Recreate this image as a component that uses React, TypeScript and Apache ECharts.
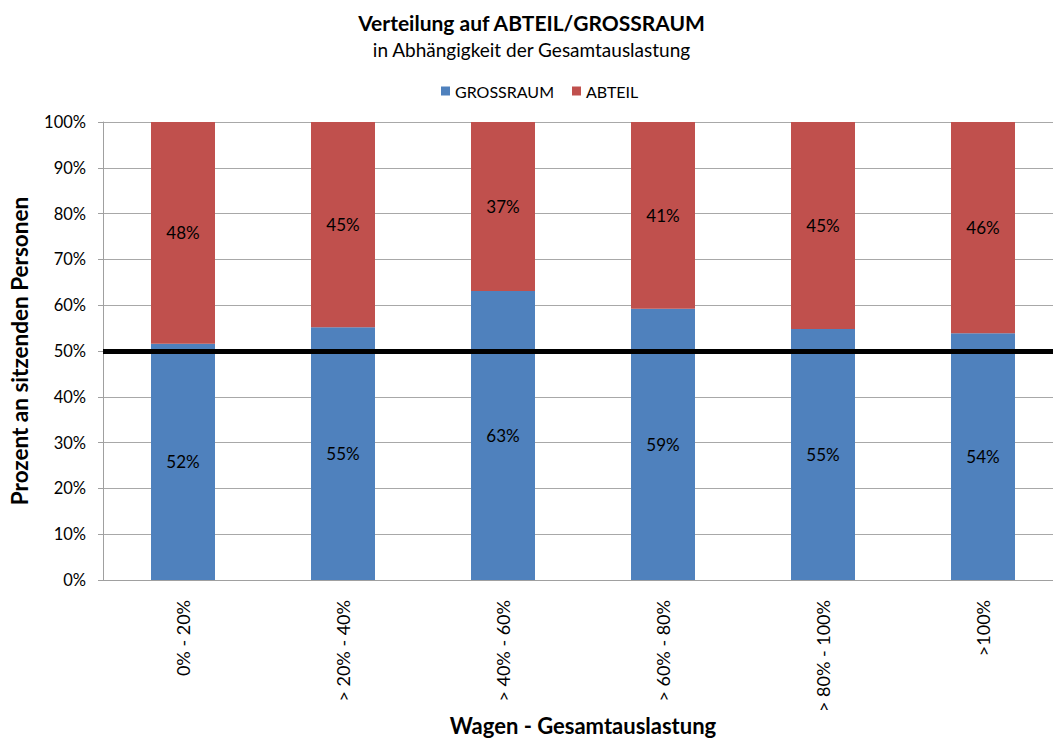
import React, { useEffect, useRef } from "react";
import * as echarts from "echarts";

const categories = ["0% - 20%", "> 20% - 40%", "> 40% - 60%", "> 60% - 80%", "> 80% - 100%", ">100%"];
const grossraum = [51.6, 55.2, 63.1, 59.2, 54.8, 53.9];
const abteil = [48.4, 44.8, 36.9, 40.8, 45.2, 46.1];
const yTicks = [0, 10, 20, 30, 40, 50, 60, 70, 80, 90, 100];
const referenceLine = 50;

const FONT = "Lato";

export default function App() {
  const ref = useRef<HTMLDivElement>(null);
  useEffect(() => {
    if (!ref.current) return;
    const chart = echarts.init(ref.current, null, { renderer: "svg" });
    const label = {
      show: true,
      position: "inside",
      color: "#000",
      fontFamily: FONT,
      fontSize: 17,
      formatter: (p: any) => Math.round(p.value) + "%",
    };
    chart.setOption({
      animation: false,
      backgroundColor: "#fff",
      title: {
        text: "Verteilung auf ABTEIL/GROSSRAUM",
        subtext: "in Abhängigkeit der Gesamtauslastung",
        left: "center",
        top: 7,
        itemGap: 7,
        textStyle: { fontFamily: FONT, fontSize: 21, fontWeight: "bold", color: "#000" },
        subtextStyle: { fontFamily: FONT, fontSize: 19, color: "#000" },
      },
      legend: {
        top: 78,
        left: 436,
        icon: "rect",
        itemWidth: 9,
        itemHeight: 9,
        itemGap: 18,
        textStyle: { fontFamily: FONT, fontSize: 16, color: "#000" },
        data: ["GROSSRAUM", "ABTEIL"],
      },
      grid: { left: 103, top: 122, bottom: 160, right: 0, containLabel: false, outerBoundsMode: "none" },
      xAxis: {
        type: "category",
        data: categories,
        axisLine: { lineStyle: { color: "#a0a0a0", width: 1 } },
        axisTick: { show: false },
        axisLabel: { rotate: 90, margin: 20, fontFamily: FONT, fontSize: 18, color: "#000" },
        name: "Wagen - Gesamtauslastung",
        nameLocation: "middle",
        nameMoveOverlap: false,
        nameGap: 134,
        nameTextStyle: { fontFamily: FONT, fontSize: 22, fontWeight: "bold", color: "#000" },
      },
      yAxis: {
        type: "value",
        min: yTicks[0],
        max: yTicks[yTicks.length - 1],
        interval: 10,
        axisLine: { show: true, lineStyle: { color: "#a0a0a0" } },
        axisTick: { show: true, length: 5, lineStyle: { color: "#a0a0a0" } },
        splitLine: { lineStyle: { color: "#a8a8a8" } },
        axisLabel: { formatter: "{value}%", margin: 17, fontFamily: FONT, fontSize: 16.5, color: "#000" },
        name: "Prozent an sitzenden Personen",
        nameLocation: "middle",
        nameGap: 72,
        nameTextStyle: { fontFamily: FONT, fontSize: 22.5, fontWeight: "bold", color: "#000" },
      },
      series: [
        {
          name: "GROSSRAUM",
          type: "bar",
          stack: "total",
          barWidth: "40%",
          data: grossraum,
          itemStyle: { color: "#4F81BD" },
          label,
          markLine: {
            silent: true,
            symbol: "none",
            label: { show: false },
            lineStyle: { color: "#000", width: 5, type: "solid" },
            data: [{ yAxis: referenceLine }],
            z: 10,
          },
        },
        {
          name: "ABTEIL",
          type: "bar",
          stack: "total",
          barWidth: "40%",
          data: abteil,
          itemStyle: { color: "#C0504D" },
          label,
        },
      ],
    });
    return () => chart.dispose();
  }, []);
  return (
    <div
      ref={ref}
      style={{ position: "fixed", left: 0, top: 0, width: 1063, height: 740, background: "#fff" }}
    />
  );
}
